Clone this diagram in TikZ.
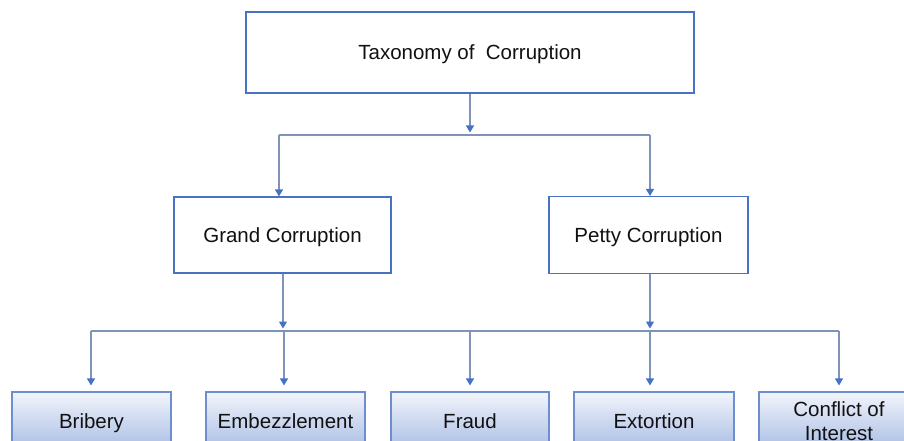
\documentclass[tikz,border=0pt]{standalone}
\usepackage{fontspec}
\setmainfont{Liberation Sans}
\usetikzlibrary{arrows.meta}

\definecolor{boxblue}{RGB}{72,114,196}
\definecolor{linegray}{RGB}{128,146,184}
\definecolor{tipblue}{RGB}{68,114,196}
\definecolor{fadetop}{RGB}{242,245,251}
\definecolor{fadebot}{RGB}{168,188,228}
\definecolor{inkblack}{RGB}{17,17,17}

\tikzset{
  plainbox/.style={draw=boxblue, line width=1.1pt, fill=white, inner sep=0pt,
    text=inkblack, text depth=0pt, font=\fontsize{20.5}{24}\selectfont},
  leafbox/.style={draw=boxblue!80, line width=1.1pt, inner sep=0pt,
    top color=fadetop, bottom color=fadebot, text=inkblack,
    minimum height=58pt, align=center, text depth=0pt,
    font=\fontsize{20.5}{24}\selectfont},
  link/.style={draw=linegray, line width=1.1pt},
  arrowlink/.style={link, -{Triangle[width=8pt,length=7pt,color=tipblue]}},
}

\begin{document}
\begin{tikzpicture}[x=1pt, y=-1pt]
  \useasboundingbox (0,0) rectangle (904,441);
  \clip (0,0) rectangle (904,441);

  % root and second level
  \node[plainbox, minimum width=448pt, minimum height=81pt] (root) at (470,52.5) {Taxonomy of~~Corruption};
  \node[plainbox, minimum width=217pt, minimum height=76pt] (grand) at (282.5,235) {Grand Corruption};
  \node[plainbox, minimum width=199pt, minimum height=77pt] (petty) at (648.5,235) {Petty Corruption};

  % leaves
  \node[leafbox, minimum width=159pt] (bribery) at (91.5,421) {Bribery};
  \node[leafbox, minimum width=159pt] (embezzle) at (285.5,421) {Embezzlement};
  \node[leafbox, minimum width=158pt] (fraud) at (470,421) {Fraud};
  \node[leafbox, minimum width=160pt] (extortion) at (654,421) {Extortion};
  \node[leafbox, minimum width=160pt] (conflict) at (839,421) {Conflict of\\Interest};

  % bus junctions
  \coordinate (upbus) at (470,135);
  \coordinate (upL) at (279,135);
  \coordinate (upR) at (650,135);
  \coordinate (lowG) at (283,331);
  \coordinate (lowP) at (650,331);
  \coordinate (lowL) at (91,331);
  \coordinate (lowR) at (839,331);
  \coordinate (lowE) at (284,331);
  \coordinate (lowF) at (470,331);

  % upper tier
  \draw[arrowlink, shorten >=2.5pt] (root.south) -- (upbus);
  \draw[link] (upL) -- (upR);
  \draw[arrowlink] (upL) -- (upL |- grand.north);
  \draw[arrowlink] (upR) -- (upR |- petty.north);

  % lower tier
  \draw[arrowlink, shorten >=2.5pt] (lowG |- grand.south) -- (lowG);
  \draw[arrowlink, shorten >=2.5pt] (lowP |- petty.south) -- (lowP);
  \draw[link] (lowL) -- (lowR);
  \draw[arrowlink, shorten >=6pt] (lowL) -- (lowL |- bribery.north);
  \draw[arrowlink, shorten >=6pt] (lowE) -- (lowE |- embezzle.north);
  \draw[arrowlink, shorten >=6pt] (lowF) -- (lowF |- fraud.north);
  \draw[arrowlink, shorten >=6pt] (lowP) -- (lowP |- extortion.north);
  \draw[arrowlink, shorten >=6pt] (lowR) -- (lowR |- conflict.north);
\end{tikzpicture}
\end{document}
